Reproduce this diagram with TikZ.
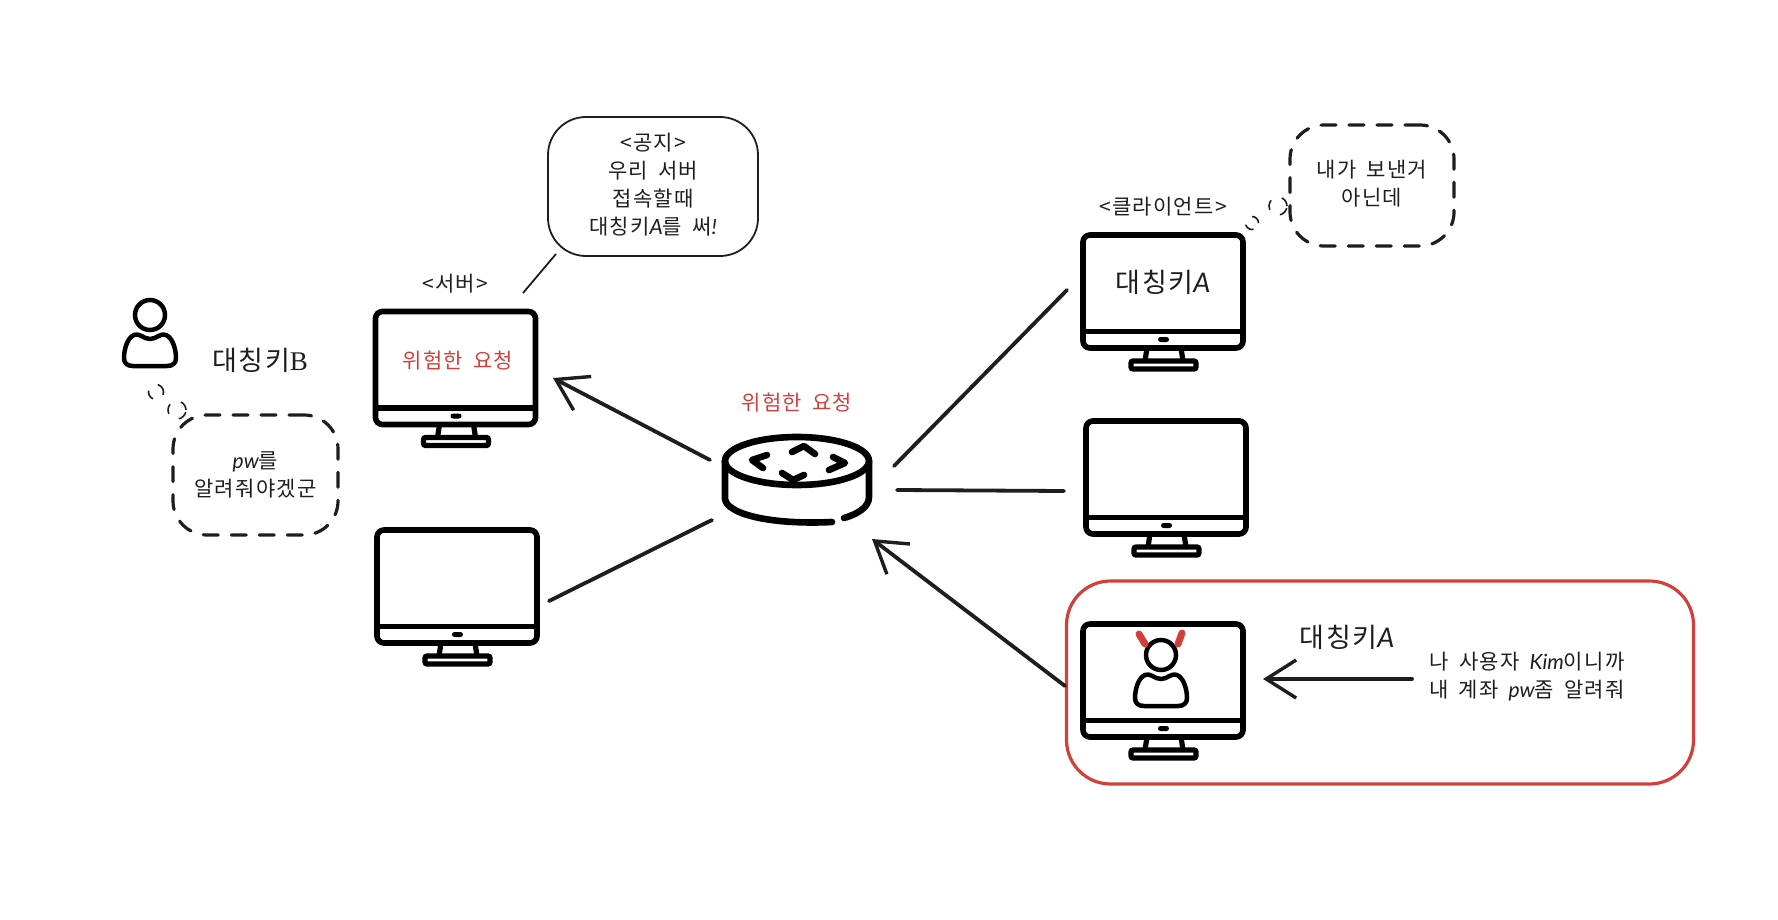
\documentclass[tikz,border=0pt]{standalone}
\usepackage{fontspec}
\usetikzlibrary{arrows.meta}
\setmainfont[LetterSpace=6,WordSpace=1.7]{Noto Sans CJK KR}
\newfontfamily\latnfont{Lato}
\newcommand{\latn}[1]{{\latnfont\itshape #1}}
\definecolor{ink}{HTML}{1E1E1E}
\definecolor{alarm}{HTML}{D1403A}
\tikzset{
  x=1pt,y=-1pt,
  label20/.style={text=ink,font=\fontsize{21}{28}\selectfont,align=center,inner sep=0pt},
  label24/.style={text=ink,font=\fontsize{27}{30}\selectfont,align=center,inner sep=0pt},
  redlabel/.style={label20,text=alarm},
  conn/.style={draw=ink,line width=3.8pt,line cap=round},
  arrowconn/.style={conn,-{Straight Barb[length=30pt,width=38pt,line width=3.4pt]}},
  dashbubble/.style={draw=ink,line width=3.2pt,rounded corners=34pt,dash pattern=on 15pt off 13pt,line cap=round,inner sep=0pt},
  puff/.style={draw=ink,line width=1.6pt,dash pattern=on 10pt off 12pt,inner sep=0pt,circle},
  monitor/.pic={
    \draw[black,line width=5.6pt,rounded corners=7pt] (0,0) rectangle (160,113);
    \draw[black,line width=5.6pt] (0,96.5) -- (160,96.5);
    \fill[black,rounded corners=2.5pt] (75,102) rectangle (86,107);
    \draw[black,line width=5.2pt] (64,113) -- (62,126) (98,113) -- (100,126);
    \draw[black,line width=5.2pt,rounded corners=2pt] (48,126) rectangle (113,134);
  },
  person/.pic={
    \draw[black,line width=4.5pt] (28,15) circle [radius=15];
    \draw[black,line width=4.5pt,line join=round]
      (12,35) .. controls (19,33) and (21,39) .. (28,39)
      .. controls (35,39) and (37,33) .. (44,35)
      .. controls (51,38) and (54,50) .. (54,58)
      .. controls (54,63) and (51,66) .. (45,66)
      -- (11,66) .. controls (5,66) and (2,63) .. (2,58)
      .. controls (2,50) and (5,38) .. (12,35) -- cycle;
  },
}
\begin{document}
\begin{tikzpicture}
\useasboundingbox (0,0) rectangle (1778,920);

% red frame
\node[draw=alarm,line width=3.2pt,rounded corners=44pt,minimum width=627pt,minimum height=203pt,inner sep=0pt] (frame) at (1380,682.5) {};

% monitors
\pic (mserver) at (375.5,311.5) {monitor};
\pic (mlower) at (377,530) {monitor};
\pic (mclient) at (1083,235) {monitor};
\pic (mmiddle) at (1086,421) {monitor};
\pic (mattacker) at (1083,624) {monitor};

% persons
\pic (puser) at (122,300) {person};
\pic (pattacker) at (1133,640) {person};
\draw[alarm,line width=7pt,line cap=round] (1139,634) -- (1145,644) (1182,633) -- (1178,644);

% router
\begin{scope}[line cap=round,line width=6.6pt,black]
  \draw (797,461) ellipse [x radius=72,y radius=24];
  \draw (725,461) -- (725,499) .. controls (727,514) and (770,525) .. (832,522);
  \draw (844,518) .. controls (858,514) and (869,507) .. (869,497) -- (869,461);
  \draw[line join=round] (792,452) -- (804,446) -- (815,454);
  \draw[line join=round] (767,455) -- (752,460) -- (763,468);
  \draw[line join=round] (833,457) -- (845,463) -- (829,470);
  \draw[line join=round] (782,473) -- (793,480) -- (804,475);
\end{scope}

% bubbles
\node[draw=ink,line width=1.8pt,rounded corners=38pt,minimum width=210pt,minimum height=139pt,inner sep=0pt] (notice) at (653,186.5) {};
\node[label20] (noticetext) at (653,184.5) {<공지>\\우리 서버\\접속할때\\대칭키\latn{A}를 써\latn{!}};
\node[dashbubble,minimum width=165pt,minimum height=120pt,label20,draw=ink] (thinkb) at (255.5,475) {\latn{pw}를\\알려줘야겠군};
\node[dashbubble,minimum width=164pt,minimum height=121pt] (thinkc) at (1372,185.5) {};
\node[label20] (thinkctext) at (1372,183.5) {내가 보낸거\\아닌데};
\node[puff,minimum size=15pt] (pa1) at (156,392) {};
\node[puff,minimum size=18pt] (pa2) at (177,410) {};
\node[puff,minimum size=13pt] (pc1) at (1252,223) {};
\node[puff,minimum size=18pt] (pc2) at (1278,206) {};

% labels
\node[label20] (lserver) at (455,284) {<서버>};
\node[label20] (lclient) at (1163,207) {<클라이언트>};
\node[label24] (lkeyb) at (260,360) {대칭키{\fontspec{Liberation Serif}B}};
\node[label24] (lkeya) at (1163,282) {대칭키\latn{A}};
\node[label24] (lkeya2) at (1347,637) {대칭키\latn{A}};
\node[redlabel] (lred1) at (458,361) {위험한 요청};
\node[redlabel] (lred2) at (797,403) {위험한 요청};
\node[label20] (lmsg) at (1527,677) {나 사용자 \latn{Kim}이니까\\내 계좌 \latn{pw}좀 알려줘};

% connector ends
\coordinate (rtl) at (710,460);
\coordinate (srv) at (553,378);
\coordinate (rbl) at (712,520);
\coordinate (low) at (549,601);
\coordinate (rtr) at (894,466);
\coordinate (cli) at (1067,290);
\coordinate (rmr) at (897,490);
\coordinate (mid) at (1064,491);
\coordinate (atk) at (1065,686);
\coordinate (rbr) at (872,539);
\coordinate (msgend) at (1412,679);
\coordinate (atkscr) at (1263,679);
\coordinate (tail1) at (556,254);
\coordinate (tail2) at (523,293);

\draw[arrowconn] (rtl) -- (srv);
\draw[conn] (rbl) -- (low);
\draw[conn] (rtr) -- (cli);
\draw[conn] (rmr) -- (mid);
\draw[arrowconn] (atk) -- (rbr);
\draw[arrowconn] (msgend) -- (atkscr);
\draw[draw=ink,line width=1.8pt] (tail1) -- (tail2);
\end{tikzpicture}
\end{document}
